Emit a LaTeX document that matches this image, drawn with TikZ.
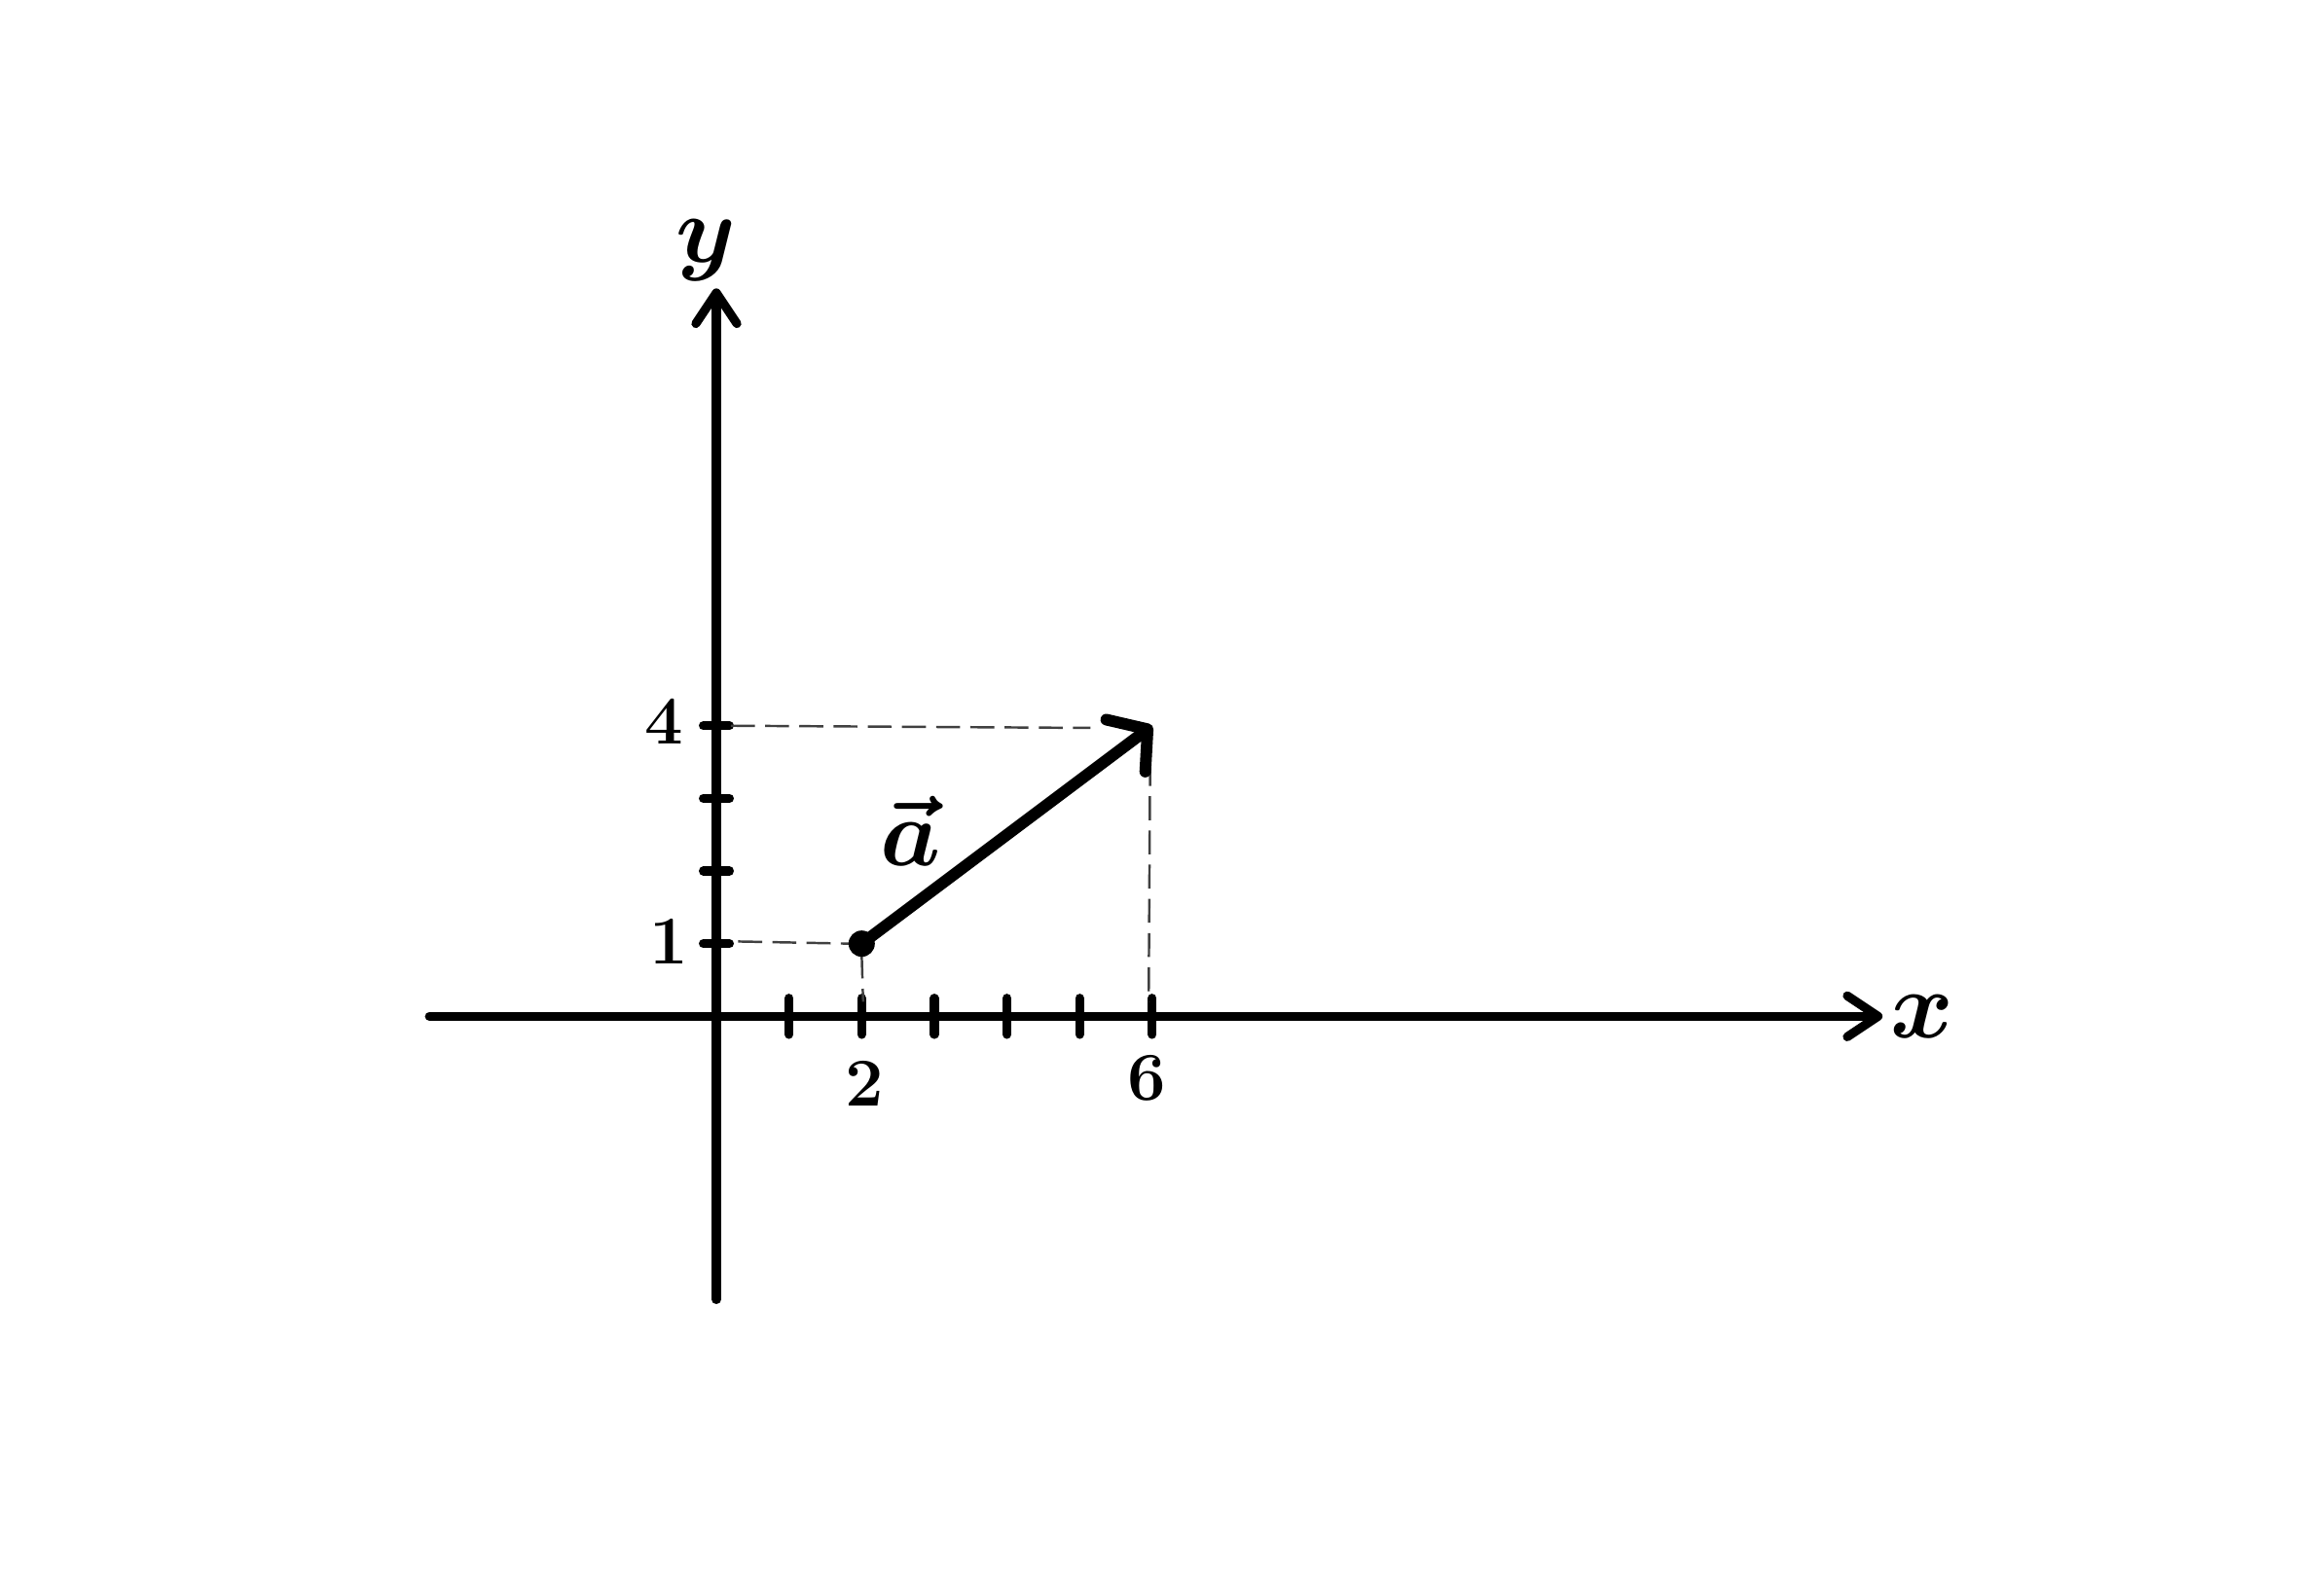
\documentclass[tikz,border=0pt]{standalone}
\usepackage{fix-cm}
\usetikzlibrary{arrows.meta}
\begin{document}
\begin{tikzpicture}[x=0.7465cm,y=0.7465cm,
  axis/.style={line width=2.6pt, line cap=round, -{Straight Barb[round,length=9pt,width=12pt]}},
  tick/.style={line width=2.6pt, line cap=round},
  vecline/.style={line width=3.4pt, line cap=round, -{Straight Barb[round,length=8pt,width=19pt]}},
  guide/.style={line width=0.7pt, dash pattern=on 7pt off 3pt, draw=black!75},
  letter/.style={font=\fontsize{28}{32}\selectfont\boldmath, inner sep=0pt},
  digit/.style={font=\fontsize{20}{24}\selectfont\boldmath, inner sep=0pt},
  dot/.style={circle, fill=black, inner sep=0pt, minimum size=0.27cm}
]
\useasboundingbox (-9.86,-7.977) rectangle (21.755,13.99);

% axes
\coordinate (xl) at (-3.95,0);
\coordinate (xr) at (16.05,0);
\coordinate (yb) at (0,-3.9);
\coordinate (yt) at (0,10.02);
\draw[axis] (xl) -- (xr);
\draw[axis] (yb) -- (yt);

% ticks on x axis
\foreach \i in {1,...,6} {
  \coordinate (xt\i a) at (\i,-0.25);
  \coordinate (xt\i b) at (\i,0.25);
  \draw[tick] (xt\i a) -- (xt\i b);
}
% ticks on y axis
\foreach \j in {1,...,4} {
  \coordinate (yt\j a) at (-0.18,\j);
  \coordinate (yt\j b) at (0.18,\j);
  \draw[tick] (yt\j a) -- (yt\j b);
}

% guide lines
\coordinate (g4a) at (0.2,4);
\coordinate (g4b) at (5.15,3.97);
\coordinate (g6a) at (5.97,3.5);
\coordinate (g6b) at (5.95,0.2);
\coordinate (g1a) at (0.3,1.03);
\coordinate (g1b) at (1.85,1.0);
\coordinate (g2a) at (2.0,0.85);
\coordinate (g2b) at (2.02,0.2);
\draw[guide] (g4a) -- (g4b);
\draw[guide] (g6a) -- (g6b);
\draw[guide] (g1a) -- (g1b);
\draw[guide] (g2a) -- (g2b);

% vector
\node[dot] (A) at (2,1) {};
\coordinate (B) at (6,4);
\draw[vecline] (A.center) -- (B);

% labels
\node[letter] (ylab) at (-0.14,10.55) {$y$};
\node[letter] (xlab) at (16.6,0.0) {$x$};
\node[letter] (alab) at (2.68,2.55) {$\vec{a}$};
\node[digit] (two) at (2.04,-0.93) {$2$};
\node[digit] (six) at (5.92,-0.85) {$6$};
\node[digit] (four) at (-0.72,4.05) {$4$};
\node[digit] (one) at (-0.65,1.02) {$1$};
\end{tikzpicture}
\end{document}
